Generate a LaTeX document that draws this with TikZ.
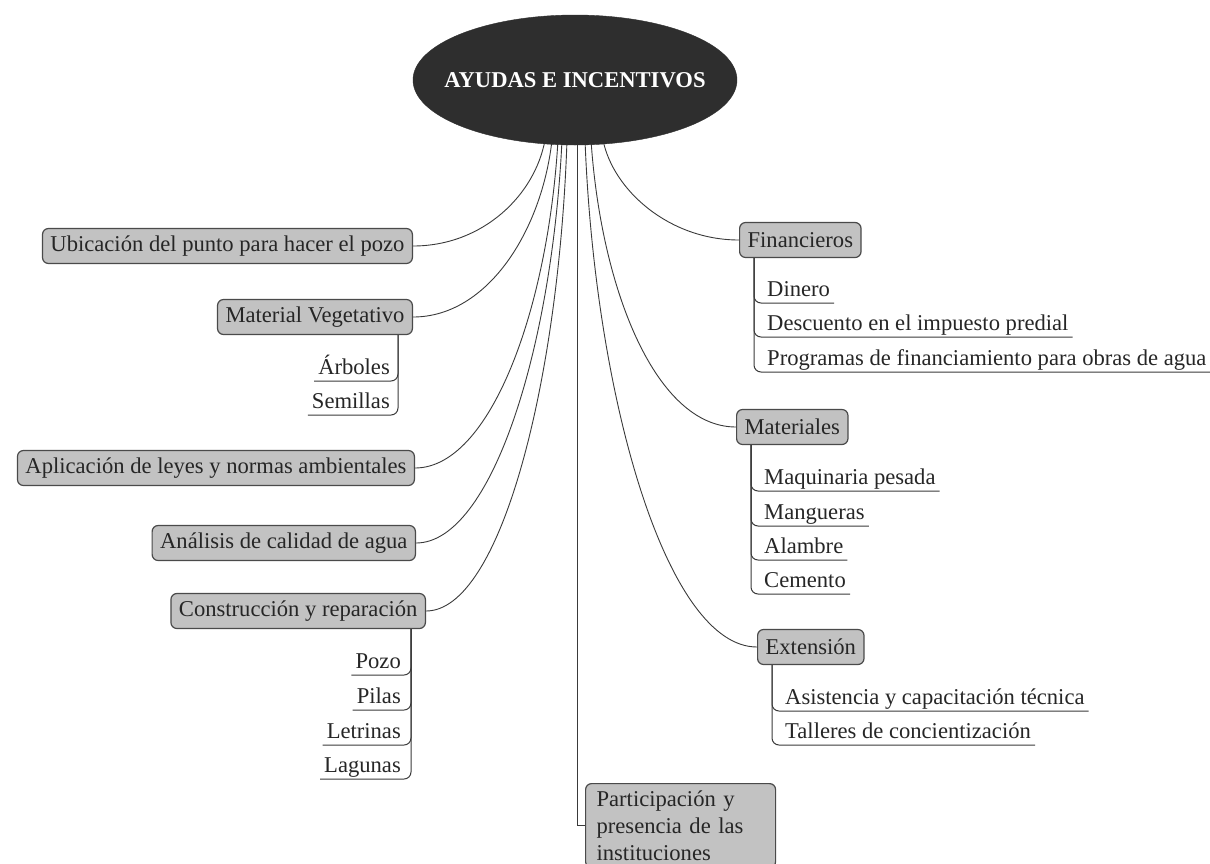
\documentclass[tikz,border=0pt]{standalone}
\usepackage{fontspec}
\setmainfont{Liberation Serif}
\usetikzlibrary{shapes.geometric,calc}
\definecolor{ellfill}{HTML}{2E2E2E}
\definecolor{boxfill}{HTML}{C2C2C2}
\definecolor{boxline}{HTML}{4A4A4A}
\definecolor{conn}{HTML}{3A3A3A}
\begin{document}
\begin{tikzpicture}[x=1pt,y=-1pt,
  every node/.style={font=\fontsize{22.6}{27}\selectfont},
  catbox/.style={draw=boxline, fill=boxfill, line width=1.2pt, rounded corners=6pt,
    minimum height=35pt, inner xsep=8pt, inner ysep=3pt, text=black!85},
  subitem/.style={inner xsep=4pt, inner ysep=0pt, text height=16pt, text depth=6pt, text=black!85},
  link/.style={draw=conn, line width=0.9pt},
  sublink/.style={draw=conn, line width=1pt, rounded corners=7pt}]
\useasboundingbox (0,0) rectangle (1210,863);
\clip (0,0) rectangle (1210,863);

% start points on the ellipse
\coordinate (s1) at (545,140);
\coordinate (s2) at (552,140);
\coordinate (s3) at (558,140);
\coordinate (s4) at (562,140);
\coordinate (s5) at (567,140);
\coordinate (s6) at (577,140);
\coordinate (s7) at (585,140);
\coordinate (s8) at (591,140);
\coordinate (s9) at (603,140);

% category boxes
\node[catbox, anchor=east] (ubic) at (413,246) {Ubicación del punto para hacer el pozo};
\node[catbox, anchor=east] (matveg) at (413,317) {Material Vegetativo};
\node[catbox, anchor=east] (aplic) at (415,468) {Aplicación de leyes y normas ambientales};
\node[catbox, anchor=east] (anal) at (416,543) {Análisis de calidad de agua};
\node[catbox, anchor=east] (constr) at (426,611) {Construcción y reparación};
\node[catbox, anchor=west] (fin) at (739,240) {Financieros};
\node[catbox, anchor=west] (mat) at (736,427) {Materiales};
\node[catbox, anchor=west] (ext) at (757,647) {Extensión};
\node[catbox, anchor=north west, text width=168pt, align=left, inner xsep=11pt, inner ysep=0pt,
  minimum height=84pt, font=\fontsize{22.6}{27}\selectfont] (part) at (585,783)
  {Participación y presencia de las instituciones};

% connectors
\draw[link] (s1) .. controls +(-10,55) and +(70,0) .. (ubic.east);
\draw[link] (s2) .. controls +(-10,90) and +(75,0) .. (matveg.east);
\draw[link] (s3) .. controls +(-10,170) and +(75,0) .. (aplic.east);
\draw[link] (s4) .. controls +(-10,210) and +(75,0) .. (anal.east);
\draw[link] (s5) .. controls +(-8,240) and +(75,0) .. (constr.east);
\draw[link] (s6) |- (part.west);
\draw[link] (s7) .. controls +(10,260) and +(-90,0) .. (ext.west);
\draw[link] (s8) .. controls +(10,150) and +(-80,0) .. (mat.west);
\draw[link] (s9) .. controls +(10,50) and +(-70,0) .. (fin.west);

% central ellipse
\node[ellipse, fill=ellfill, draw=ellfill, minimum width=324pt, minimum height=130pt, inner sep=0pt,
  text=white, font=\fontsize{22.6}{26}\selectfont\bfseries] (root) at (575,80)
  {\makebox[0pt]{AYUDAS E INCENTIVOS}};

% sub items: Material Vegetativo
\node[subitem, anchor=south east] (arb) at (394,381) {Árboles};
\node[subitem, anchor=south east] (sem) at (394,415) {Semillas};
\draw[sublink] (matveg.south -| 398,0) |- (arb.south west);
\draw[sublink] (matveg.south -| 398,0) |- (sem.south west);

% sub items: Construccion
\node[subitem, anchor=south east] (pozo) at (405,675) {Pozo};
\node[subitem, anchor=south east] (pilas) at (405,710) {Pilas};
\node[subitem, anchor=south east] (letr) at (405,745) {Letrinas};
\node[subitem, anchor=south east] (lag) at (405,779) {Lagunas};
\draw[sublink] (constr.south -| 411,0) |- (pozo.south west);
\draw[sublink] (constr.south -| 411,0) |- (pilas.south west);
\draw[sublink] (constr.south -| 411,0) |- (letr.south west);
\draw[sublink] (constr.south -| 411,0) |- (lag.south west);

% sub items: Financieros
\node[subitem, anchor=south west] (din) at (763,303) {Dinero};
\node[subitem, anchor=south west] (desc) at (763,337) {Descuento en el impuesto predial};
\node[subitem, anchor=south west] (prog) at (763,372) {Programas de financiamiento para obras de agua};
\draw[sublink] (fin.south -| 754,0) |- (din.south east);
\draw[sublink] (fin.south -| 754,0) |- (desc.south east);
\draw[sublink] (fin.south -| 754,0) |- (prog.south east);

% sub items: Materiales
\node[subitem, anchor=south west] (maq) at (760,491) {Maquinaria pesada};
\node[subitem, anchor=south west] (mang) at (760,526) {Mangueras};
\node[subitem, anchor=south west] (alam) at (760,560) {Alambre};
\node[subitem, anchor=south west] (cem) at (760,594) {Cemento};
\draw[sublink] (mat.south -| 751,0) |- (maq.south east);
\draw[sublink] (mat.south -| 751,0) |- (mang.south east);
\draw[sublink] (mat.south -| 751,0) |- (alam.south east);
\draw[sublink] (mat.south -| 751,0) |- (cem.south east);

% sub items: Extension
\node[subitem, anchor=south west] (asis) at (781,711) {Asistencia y capacitación técnica};
\node[subitem, anchor=south west] (tall) at (781,745) {Talleres de concientización};
\draw[sublink] (ext.south -| 772,0) |- (asis.south east);
\draw[sublink] (ext.south -| 772,0) |- (tall.south east);
\end{tikzpicture}
\end{document}
